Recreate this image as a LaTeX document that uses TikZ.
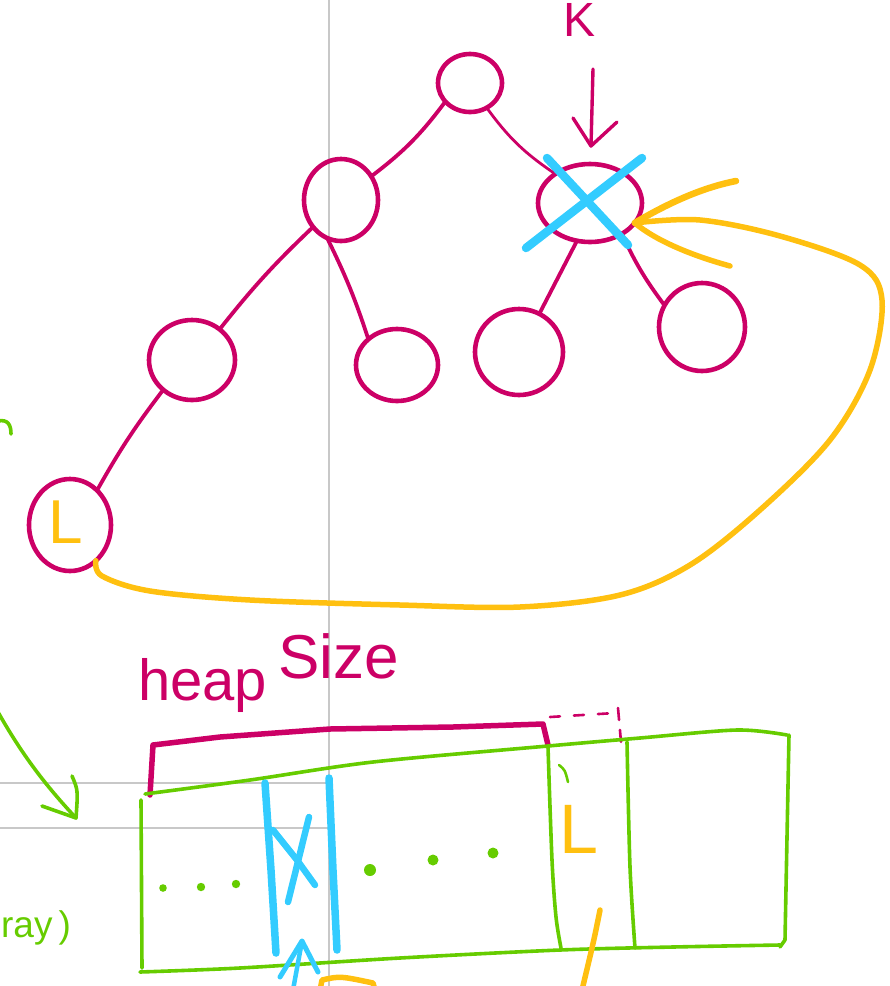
\documentclass[tikz,border=0pt]{standalone}
\usepackage{fontspec}
\usetikzlibrary{shapes.geometric}
\newfontfamily\handfont{Liberation Sans}
\definecolor{inkmag}{RGB}{204,0,102}
\definecolor{inkblue}{RGB}{51,204,255}
\definecolor{inkyel}{RGB}{255,192,16}
\definecolor{inkgrn}{RGB}{102,204,0}
\definecolor{rulegray}{RGB}{200,200,200}
\begin{document}
\begin{tikzpicture}[x=1pt,y=-1pt,
  pen/.style={line cap=round,line join=round},
  treenode/.style={ellipse,draw=inkmag,line width=4.6pt,inner sep=0pt,outer sep=0pt},
  treeedge/.style={pen,draw=inkmag,line width=3.8pt},
  magpen/.style={pen,draw=inkmag,line width=3.4pt},
  yelpen/.style={pen,draw=inkyel,line width=5.5pt},
  grnpen/.style={pen,draw=inkgrn,line width=3.6pt},
  bluepen/.style={pen,draw=inkblue,line width=7.5pt},
  rule/.style={draw=rulegray,line width=2.5pt},
  label/.style={inner sep=0pt,outer sep=0pt}]
\useasboundingbox (0,0) rectangle (890,986);
\clip (0,0) rectangle (890,986);

% ruled page lines
\draw[rule] (329,0) -- (329,986);
\draw[rule] (0,783) -- (329,783);
\draw[rule] (0,828) -- (329,828);

% heap tree
\node[treenode,minimum width=64pt,minimum height=58pt] (root) at (470,83) {};
\node[treenode,minimum width=74pt,minimum height=82pt] (lc) at (341,200) {};
\node[treenode,minimum width=104pt,minimum height=78pt] (rc) at (590,203) {};
\node[treenode,minimum width=86pt,minimum height=80pt] (ll) at (192,360) {};
\node[treenode,minimum width=82pt,minimum height=72pt] (lr) at (397,365) {};
\node[treenode,minimum width=88pt,minimum height=86pt] (rl) at (519,352) {};
\node[treenode,minimum width=86pt,minimum height=88pt] (rr) at (702,327) {};
\node[treenode,minimum width=82pt,minimum height=92pt] (bn) at (70,525) {};

\draw[treeedge] (root.217) to[bend left=8] (lc.38);
\draw[treeedge,line width=2.8pt] (root.304) to[bend right=10] (rc.140);
\draw[treeedge] (lc.224) to[bend right=4] (ll.48);
\draw[treeedge] (lc.250) to[bend left=4] (lr.138);
\draw[treeedge] (rc.251) to (rl.62);
\draw[treeedge] (rc.316) to[bend right=6] (rr.150);
\draw[treeedge] (ll.226) to[bend right=4] (bn.52);

% pointer to the key node
\node[label,anchor=base west,text=inkmag,font=\handfont\fontsize{48}{48}\selectfont] (keyname) at (563,36) {K};
\coordinate (ktail) at (593,69);
\coordinate (khead) at (591,146);
\draw[magpen] (ktail) -- (khead);
\draw[magpen] (573,118) -- (khead) -- (617,122);

% crossed out node
\draw[bluepen,line width=8.5pt] (547,158) -- (628,245);
\draw[bluepen,line width=8.5pt] (642,158) -- (526,248);

% last leaf moved up
\node[label,anchor=base west,text=inkyel,font=\handfont\fontsize{62}{62}\selectfont] (lastkey) at (48,543) {L};
\draw[yelpen] plot[smooth,tension=0.55] coordinates {(bn.306) (102,576) (150,591) (250,600) (400,605) (520,607) (620,595) (690,565) (760,510) (830,440) (870,370) (882,300) (860,265) (780,236) (700,220) (rc.336)};
\draw[yelpen,line width=6.5pt] (rc.336) .. controls (665,205) and (700,188) .. (736,181);
\draw[yelpen] (rc.336) .. controls (655,240) and (690,255) .. (730,266);

% heap size bracket
\node[label,anchor=base west,text=inkmag,font=\handfont\fontsize{58}{58}\selectfont] (heapword) at (138,700) {heap};
\node[label,anchor=base west,text=inkmag,font=\handfont\fontsize{62}{62}\selectfont] (sizeword) at (278,678) {Size};
\draw[magpen,line width=5.5pt] (150,795) -- (153,745) -- (220,737) -- (330,729) -- (453,727) -- (543,724) -- (548,745);
\draw[magpen,line width=2.6pt,dash pattern=on 10pt off 14pt] (550,717) -- (615,713);
\draw[magpen,line width=2.6pt,dash pattern=on 12pt off 10pt] (618,708) -- (621,742);

% array
\draw[grnpen] plot[smooth,tension=0.5] coordinates {(145,794) (250,780) (373,762) (548,746) (640,738) (737,730) (787,735)};
\draw[grnpen] (141,800) -- (142,968);
\draw[grnpen] plot[smooth,tension=0.5] coordinates {(140,972) (240,968) (400,958) (560,950) (673,947) (780,945)};
\draw[grnpen] plot[smooth,tension=0.5] coordinates {(548,747) (552,860) (556,917) (561,948)};
\draw[grnpen] plot[smooth,tension=0.5] coordinates {(627,742) (630,867) (635,948)};
\draw[grnpen] (789,735) -- (785,940) -- (780,947);
\draw[grnpen,line width=2.6pt] (559,765) .. controls (565,770) .. (568,782);
\fill[inkgrn] (163,888) circle (3.8pt) (201,887) circle (4.2pt) (236,884) circle (4.2pt);
\fill[inkgrn] (370,870) circle (6pt) (433,860) circle (5.5pt) (493,853) circle (5.5pt);
\node[label,anchor=base west,text=inkyel,font=\handfont\fontsize{70}{70}\selectfont] (slotkey) at (559,853) {L};

% removed slot
\draw[bluepen] (265,783) -- (271,870) -- (276,953);
\draw[bluepen] (329,778) -- (333,870) -- (337,950);
\draw[bluepen,line width=6.5pt] (273,830) -- (297,860) -- (315,885);
\draw[bluepen,line width=6.5pt] (309,817) -- (288,902);
\coordinate (btail) at (293,990);
\coordinate (bhead) at (302,941);
\draw[bluepen,line width=4.5pt] (btail) -- (bhead);
\draw[bluepen,line width=5pt] (280,977) -- (bhead) -- (318,972);

% yellow strokes leaving the bottom edge
\draw[yelpen] (320,990) -- (322,980) .. controls (340,976) .. (373,983) -- (375,990);
\draw[yelpen] (600,910) .. controls (594,940) .. (582,990);

% array label and pointer
\coordinate (gtail) at (-2,712);
\coordinate (ghead) at (76,818);
\draw[grnpen] (gtail) .. controls (25,760) and (50,790) .. (ghead);
\draw[grnpen] (72,776) .. controls (78,790) .. (ghead) -- (42,806);
\draw[grnpen] (-2,421) .. controls (8,419) and (11,425) .. (11,434);
\node[label,anchor=base east,text=inkgrn,font=\handfont\fontsize{37}{37}\selectfont] (arrayword) at (71,937) {ray\,)};
\end{tikzpicture}
\end{document}
